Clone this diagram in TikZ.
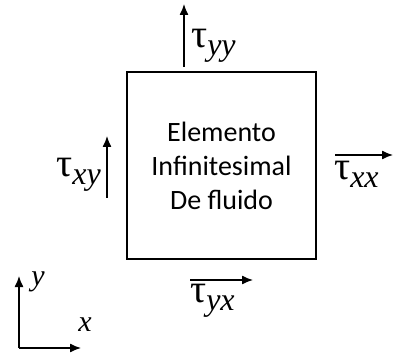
\documentclass[tikz,border=0pt]{standalone}
\usepackage{fontspec}
\setmainfont{Carlito}
\newfontfamily\taufont{Liberation Serif}
\newcommand{\stresslabel}[1]{τ\raisebox{-8pt}{\fontsize{32}{32}\taufont\itshape #1}}
\usetikzlibrary{arrows.meta,positioning}
\begin{document}
\begin{tikzpicture}[x=1pt,y=1pt,>={Latex[length=11pt,width=9pt]},
  every node/.style={align=center,inner sep=0pt},
  stress/.style={font=\fontsize{40}{40}\taufont},
  axislabel/.style={font=\fontsize{30}{30}\taufont\itshape}]
  \useasboundingbox (0,0) rectangle (393,356);
  \node[draw,line width=2pt,minimum width=189pt,minimum height=187pt,
    font=\fontsize{28}{34}\selectfont] (el) at (221.5,190.5)
    {Elemento\\Infinitesimal\\De fluido};
  % stress arrows
  \coordinate (yyfrom) at (184,289);
  \coordinate (yyto) at (184,352);
  \coordinate (xyfrom) at (107,158);
  \coordinate (xyto) at (107,220);
  \coordinate (xxfrom) at (335,201);
  \coordinate (xxto) at (393,201);
  \coordinate (yxfrom) at (190,76);
  \coordinate (yxto) at (253,76);
  \draw[->,line width=1.3pt] (yyfrom) -- (yyto);
  \draw[->,line width=1.3pt] (xyfrom) -- (xyto);
  \draw[->,line width=1.3pt] (xxfrom) -- (xxto);
  \draw[->,line width=1.3pt] (yxfrom) -- (yxto);
  \node[stress,anchor=base west] (tyy) at (191,308) {\stresslabel{yy}};
  \node[stress,anchor=base east] (txy) at (101,179) {\stresslabel{xy}};
  \node[stress,anchor=base west] (txx) at (334,176) {\stresslabel{xx}};
  \node[stress,anchor=base west] (tyx) at (190,54) {\stresslabel{yx}};
  % axes
  \coordinate (o) at (19,8);
  \coordinate (ox) at (81,8);
  \coordinate (oy) at (19,80);
  \draw[->,line width=1.3pt] (o) -- (ox);
  \draw[->,line width=1.3pt] (o) -- (oy);
  \node[axislabel] (xl) at (85,31) {x};
  \node[axislabel] (yl) at (38,74) {y};
\end{tikzpicture}
\end{document}
